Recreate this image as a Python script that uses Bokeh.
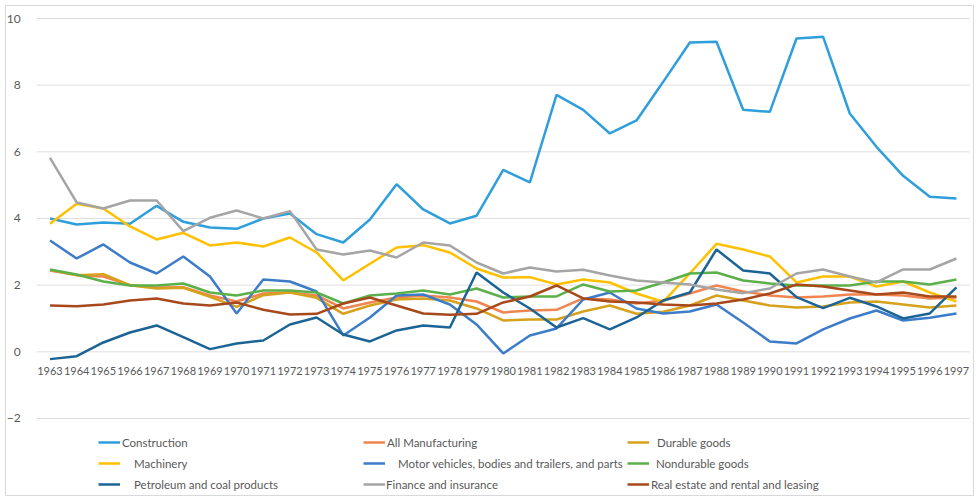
from bokeh.plotting import figure
from bokeh.models import Range1d, FixedTicker, Legend, LegendItem
from bokeh.embed import file_html
from bokeh.resources import INLINE

# ---- data: annual values by industry, 1963-1997 ----
years = list(range(1963, 1998))
y_ticks = [-2, 0, 2, 4, 6, 8, 10]

construction = [4.00, 3.82, 3.88, 3.84, 4.38, 3.90, 3.73, 3.69, 4.00, 4.15,
                3.53, 3.28, 3.97, 5.03, 4.27, 3.85, 4.08, 5.46, 5.08, 7.71,
                7.26, 6.55, 6.94, 8.10, 9.28, 9.30, 7.26, 7.20, 9.40, 9.45,
                7.15, 6.15, 5.28, 4.65, 4.60]
all_manufacturing = [2.44, 2.30, 2.26, 2.00, 1.93, 1.94, 1.69, 1.51, 1.75, 1.78,
                     1.69, 1.30, 1.48, 1.63, 1.69, 1.63, 1.51, 1.18, 1.24, 1.26,
                     1.60, 1.57, 1.45, 1.54, 1.75, 1.99, 1.81, 1.69, 1.63, 1.66,
                     1.72, 1.72, 1.69, 1.60, 1.63]
durable_goods = [2.45, 2.30, 2.33, 2.00, 1.90, 1.92, 1.65, 1.35, 1.70, 1.78,
                 1.62, 1.14, 1.39, 1.57, 1.60, 1.54, 1.30, 0.94, 0.97, 0.97,
                 1.21, 1.39, 1.14, 1.20, 1.39, 1.69, 1.54, 1.39, 1.33, 1.36,
                 1.48, 1.51, 1.42, 1.33, 1.39]
machinery = [3.84, 4.44, 4.30, 3.76, 3.37, 3.57, 3.19, 3.28, 3.16, 3.43,
             2.98, 2.14, 2.64, 3.13, 3.20, 2.98, 2.50, 2.23, 2.24, 2.02,
             2.17, 2.08, 1.75, 1.50, 2.35, 3.24, 3.07, 2.86, 2.08, 2.26,
             2.26, 1.96, 2.11, 1.78, 1.51]
motor_vehicles = [3.34, 2.80, 3.22, 2.68, 2.35, 2.86, 2.26, 1.15, 2.17, 2.11,
                  1.81, 0.49, 1.03, 1.69, 1.72, 1.42, 0.82, -0.05, 0.49, 0.70,
                  1.57, 1.78, 1.30, 1.15, 1.21, 1.42, 0.88, 0.31, 0.25, 0.67,
                  1.00, 1.24, 0.94, 1.02, 1.15]
nondurable_goods = [2.47, 2.32, 2.11, 1.99, 1.99, 2.05, 1.78, 1.69, 1.84, 1.84,
                    1.78, 1.45, 1.69, 1.75, 1.84, 1.72, 1.90, 1.63, 1.66, 1.66,
                    2.02, 1.81, 1.84, 2.08, 2.35, 2.38, 2.14, 2.05, 1.99, 1.99,
                    1.99, 2.11, 2.11, 2.02, 2.17]
petroleum = [-0.22, -0.13, 0.28, 0.58, 0.79, 0.44, 0.08, 0.25, 0.34, 0.82,
             1.03, 0.52, 0.31, 0.64, 0.79, 0.73, 2.38, 1.78, 1.30, 0.73,
             1.01, 0.67, 1.03, 1.54, 1.78, 3.07, 2.44, 2.35, 1.64, 1.31,
             1.62, 1.36, 1.00, 1.15, 1.93]
finance = [5.82, 4.48, 4.30, 4.54, 4.54, 3.62, 4.02, 4.24, 4.00, 4.22,
           3.07, 2.92, 3.04, 2.83, 3.28, 3.19, 2.68, 2.35, 2.53, 2.41,
           2.46, 2.29, 2.14, 2.08, 2.02, 1.87, 1.76, 1.90, 2.35, 2.47,
           2.26, 2.08, 2.47, 2.47, 2.80]
real_estate = [1.39, 1.37, 1.42, 1.54, 1.60, 1.45, 1.39, 1.48, 1.26, 1.12,
               1.14, 1.45, 1.63, 1.39, 1.15, 1.11, 1.14, 1.48, 1.66, 1.99,
               1.60, 1.51, 1.48, 1.42, 1.39, 1.45, 1.57, 1.75, 2.02, 1.96,
               1.84, 1.72, 1.78, 1.66, 1.66]

series_names = ["Construction", "All Manufacturing", "Durable goods",
                "Machinery", "Motor vehicles, bodies and trailers, and parts",
                "Nondurable goods", "Petroleum and coal products",
                "Finance and insurance", "Real estate and rental and leasing"]
series_values = [construction, all_manufacturing, durable_goods, machinery,
                 motor_vehicles, nondurable_goods, petroleum, finance, real_estate]

# ---- styling ----
colors = ["#2f9fdb", "#f0854f", "#d6a11c", "#ffc000", "#3d7cc9",
          "#5cb04a", "#1d6496", "#a5a5a5", "#a8491c"]
FONT = "Lato"
TEXT_COLOR = "#595959"
GRID_COLOR = "#dedede"

# frame covers the whole chart area; pixel scale: 26.66 px/year, 33.33 px/unit
px_year, px_unit = 26.66, 33.33
frame_w, frame_h = 968, 491
x_start = years[0] - 44.5 / px_year
y_end = y_ticks[-1] + 13 / px_unit

p = figure(width=978, height=496, output_backend="svg", toolbar_location=None,
           x_range=Range1d(x_start, x_start + frame_w / px_year),
           y_range=Range1d(y_end - frame_h / px_unit, y_end),
           min_border=0, min_border_left=5, min_border_right=5,
           min_border_top=5, min_border_bottom=0)
p.outline_line_color = "#d9d9d9"
p.background_fill_color = "white"
p.border_fill_color = "white"
p.grid.visible = False

# horizontal gridlines across the category bands
x_lo, x_hi = years[0] - 0.5, years[-1] + 0.5
p.segment(x0=[x_lo] * len(y_ticks), x1=[x_hi] * len(y_ticks),
          y0=y_ticks, y1=y_ticks, line_color=GRID_COLOR, line_width=1)

# y axis pinned to the left edge of the category bands
yax = p.yaxis[0]
yax.fixed_location = x_lo
yax.ticker = FixedTicker(ticks=y_ticks)
yax.axis_line_color = None
yax.major_tick_line_color = None
yax.minor_tick_line_color = None
yax.major_label_standoff = 10
yax.major_label_text_font = FONT
yax.major_label_text_font_size = "12px"
yax.major_label_text_color = TEXT_COLOR

# x axis crossing at zero
xax = p.xaxis[0]
xax.fixed_location = 0
xax.ticker = FixedTicker(ticks=years)
xax.axis_line_color = None
xax.major_tick_line_color = None
xax.minor_tick_line_color = None
xax.major_label_standoff = 9
xax.major_label_text_font = FONT
xax.major_label_text_font_size = "11px"
xax.major_label_text_color = TEXT_COLOR

renderers = []
for name, vals, col in zip(series_names, series_values, colors):
    r = p.line(years, vals, line_color=col, line_width=2.5)
    renderers.append(r)

# legend: three columns x three rows, row-major order
col_x = [93, 358, 622]            # frame-relative x of each column's swatch
row_bottom = [46, 25, 4]          # distance of each row's bottom from frame bottom
standoffs = [2, 2, 8, 14, 13, 7, 14, 1, 2]
for i, (name, r) in enumerate(zip(series_names, renderers)):
    row, col = divmod(i, 3)
    leg = Legend(items=[LegendItem(label=name, renderers=[r])],
                 location=(col_x[col], row_bottom[row]),
                 orientation="vertical", padding=0, margin=0, spacing=0,
                 glyph_width=22, glyph_height=16, label_height=16,
                 label_standoff=standoffs[i],
                 label_text_font=FONT, label_text_font_size="11.5px",
                 label_text_color=TEXT_COLOR,
                 border_line_color=None, background_fill_alpha=0)
    p.add_layout(leg)

open("out.html", "w").write(file_html(p, INLINE))
